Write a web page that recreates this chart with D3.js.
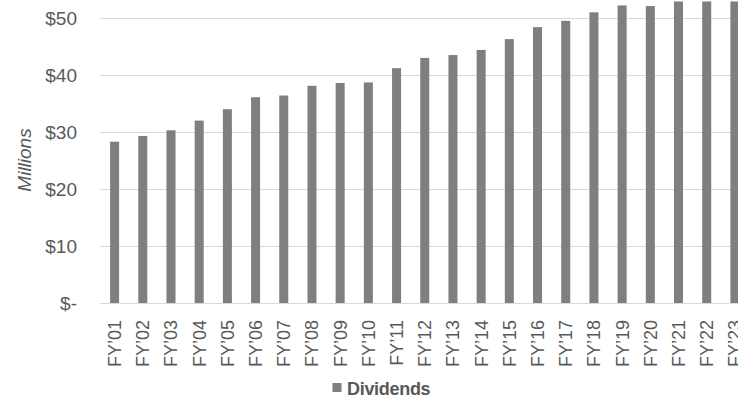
<!DOCTYPE html>
<html>
<head>
<meta charset="utf-8">
<script src="https://cdn.jsdelivr.net/npm/d3@7"></script>
<style>
  html, body { margin: 0; padding: 0; background: #ffffff; overflow: hidden; }
  svg { display: block; }
  text { font-family: "Liberation Sans", Arial, sans-serif; fill: #595959; }
</style>
</head>
<body>
<svg id="chart" width="738" height="399"></svg>
<script>
// Fiscal years shown on the category axis
const fiscalYears = ["FY\u201901","FY\u201902","FY\u201903","FY\u201904","FY\u201905","FY\u201906",
  "FY\u201907","FY\u201908","FY\u201909","FY\u201910","FY\u201911","FY\u201912","FY\u201913",
  "FY\u201914","FY\u201915","FY\u201916","FY\u201917","FY\u201918","FY\u201919","FY\u201920",
  "FY\u201921","FY\u201922","FY\u201923"];

// Dividends paid, $ millions
const dividends = [28.3, 29.3, 30.3, 32.0, 34.0, 36.1, 36.4, 38.1, 38.6, 38.7, 41.2, 43.0, 43.5,
  44.4, 46.3, 48.4, 49.5, 51.0, 52.2, 52.1, 52.9, 52.9, 52.9];

// Value-axis ticks
const yTicks = [0, 10, 20, 30, 40, 50];

const seriesName = "Dividends";
const axisTitle = "Millions";

const svg = d3.select("#chart");

const x = d3.scaleBand()
  .domain(fiscalYears)
  .range([100.5, 749])
  .paddingInner(0.68)
  .paddingOuter(0.34);

const y = d3.scaleLinear()
  .domain([0, 50])
  .range([303, 18]);

const fmt = v => v === 0 ? "$-" : "$" + d3.format("d")(v);

// Horizontal gridlines
svg.append("g")
  .selectAll("line")
  .data(yTicks)
  .join("line")
  .attr("x1", 100)
  .attr("x2", 760)
  .attr("y1", d => Math.round(y(d)) + 0.5)
  .attr("y2", d => Math.round(y(d)) + 0.5)
  .attr("stroke", "#d9d9d9")
  .attr("stroke-width", 1);

// Value-axis labels
svg.append("g")
  .selectAll("text")
  .data(yTicks)
  .join("text")
  .attr("x", 77)
  .attr("y", d => y(d))
  .attr("dy", "0.36em")
  .attr("text-anchor", "end")
  .style("font-size", "19px")
  .text(fmt);

// Axis title
svg.append("text")
  .attr("transform", "translate(31,160) rotate(-90)")
  .attr("text-anchor", "middle")
  .style("font-size", "19px")
  .style("font-style", "italic")
  .text(axisTitle);

// Bars
svg.append("g")
  .selectAll("rect")
  .data(fiscalYears.map((k, i) => ({ k, v: dividends[i] })))
  .join("rect")
  .attr("x", d => x(d.k))
  .attr("width", x.bandwidth())
  .attr("y", d => y(d.v))
  .attr("height", d => y(0) - y(d.v))
  .attr("fill", "#7f7f7f");

// Category labels, rotated
svg.append("g")
  .selectAll("text")
  .data(fiscalYears)
  .join("text")
  .attr("transform", d => `translate(${x(d) + x.bandwidth() / 2},320) rotate(-90)`)
  .attr("dy", "0.36em")
  .attr("text-anchor", "end")
  .style("font-size", "18px")
  .text(d => d);

// Legend
const legend = svg.append("g");
legend.append("rect")
  .attr("x", 332.5)
  .attr("y", 383)
  .attr("width", 9)
  .attr("height", 9)
  .attr("fill", "#7f7f7f");
legend.append("text")
  .attr("x", 347)
  .attr("y", 395)
  .style("font-size", "18px")
  .style("font-weight", "bold")
  .style("letter-spacing", "-0.3px")
  .text(seriesName);
</script>
</body>
</html>
